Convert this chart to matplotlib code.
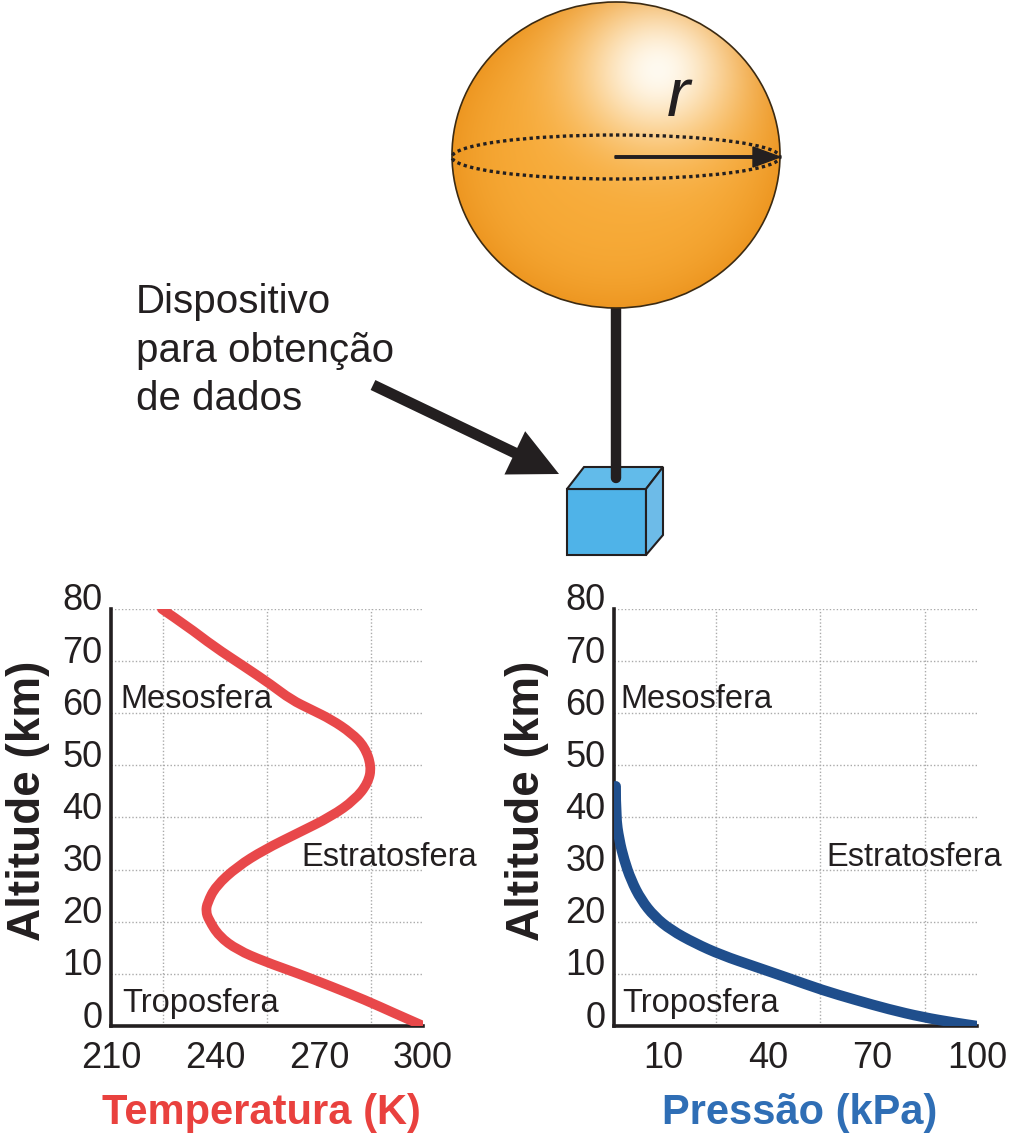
import numpy as np
import matplotlib
matplotlib.use("Agg")
import matplotlib.pyplot as plt
from matplotlib.patches import Ellipse, Polygon, FancyArrow, PathPatch
from matplotlib.path import Path
from matplotlib.transforms import ScaledTranslation

plt.rcParams['font.family'] = ['Liberation Sans', 'DejaVu Sans']

# data
alt_ticks = [0, 10, 20, 30, 40, 50, 60, 70, 80]
temp_ticks = [210, 240, 270, 300]
temp_grid = [225, 240, 255, 270, 285, 300]
pres_ticks = [10, 40, 70, 100]
pres_grid = [10, 25, 40, 55, 70, 85, 100]

temp_alt = [80, 76.7, 72.8, 69, 65.5, 62.6, 60.7, 58.8, 56.2, 53.6, 49.8, 46.6, 43.4,
            40.2, 37, 33.8, 30.6, 26.8, 23.6, 22, 20.4, 17.2, 14.6, 12.4, 10.1, 7.6, 5, 2.4, 0]
temp_K = [224.7, 232, 239.7, 248.4, 256.2, 262, 267.8, 273.6, 279.4, 283.2, 285.2, 284.2, 280.4,
          273.6, 263.9, 254.2, 246.5, 240.2, 237.8, 237.4, 238.2, 241.2, 246.5, 254.2, 263.9, 273.6,
          283.3, 292, 300.2]

pres_alt = [46, 40.2, 35.7, 31.9, 28, 24.2, 21, 18.4, 15.9, 13.6, 11.4, 9.2, 6.9, 5, 3.2, 1.7, 0.6, 0]
pres_kPa = [-3.8, -3.8, -2.8, -1.4, 0.6, 3.5, 7.3, 12.1, 18.9, 26.6, 36.2, 45.8, 55.5, 65.1,
            74.7, 84.3, 93.9, 100]

layers = ["Mesosfera", "Estratosfera", "Troposfera"]

ink = "#231f20"
red = "#e8484a"
blue = "#1f4e8c"

fig = plt.figure(figsize=(10.09, 11.40), dpi=100)

#%% illustration (pixel coordinates)
ax0 = fig.add_axes([0, 0, 1, 1], zorder=0)

xs = np.linspace(452, 780, 330)
ys = np.linspace(2, 308, 310)
X, Y = np.meshgrid(xs, ys)
hl = np.exp(-np.hypot((X - 658) / 80, (Y - 70) / 75) ** 2)
rr = np.clip(np.hypot((X - 616) / 164, (Y - 155) / 153), 0, 1)
base = np.array([0.97, 0.67, 0.22])
edge = np.array([0.93, 0.59, 0.13])
white = np.array([1.0, 0.98, 0.94])
col = base + (edge - base) * (rr[..., None] ** 4)
col = col + (white - col) * hl[..., None]
im = ax0.imshow(col, extent=(452, 780, 308, 2), origin="upper", zorder=2, interpolation="bilinear")

# box + string (string under the balloon, over the box)
front = Polygon([(567, 489), (646, 489), (646, 555), (567, 555)], closed=True,
                fc="#4fb3e8", ec=ink, lw=1.5, zorder=1.2)
top = Polygon([(567, 489), (584, 467), (663, 467), (646, 489)], closed=True,
              fc="#62bbea", ec=ink, lw=1.5, zorder=1.2)
side = Polygon([(646, 489), (663, 467), (663, 535), (646, 555)], closed=True,
               fc="#6dbbe8", ec=ink, lw=1.5, zorder=1.2)
for p in (front, top, side):
    ax0.add_patch(p)
ax0.plot([616, 616], [290, 478], color=ink, lw=7.5, solid_capstyle="round", zorder=1.5)

sphere = Ellipse((616, 155), 328, 306, fc="none", ec="#3b2a12", lw=1.2, zorder=3)
ax0.add_patch(sphere)
im.set_clip_path(sphere)
ax0.add_patch(Ellipse((616, 157), 328, 44, fc="none", ec=ink, lw=2.4, ls=(0, (1, 1)), zorder=4))
ax0.add_patch(FancyArrow(615, 157, 165, 0, width=2.5, head_width=20, head_length=27,
                         length_includes_head=True, color=ink, zorder=5))
ax0.text(678, 98, "r", fontsize=50, style="italic", ha="center", va="center", color=ink, zorder=5)

# pointer arrow and caption
ax0.add_patch(FancyArrow(373, 385, 186, 89, width=11, head_width=48, head_length=49,
                         length_includes_head=True, color=ink, lw=0, zorder=3))
for line, yb in zip(["Dispositivo", "para obtenção", "de dados"], [313, 362, 410]):
    ax0.text(136, yb, line, fontsize=29, va="baseline", ha="left", color=ink)

ax0.set_xlim(0, 1009)
ax0.set_ylim(1140, 0)
ax0.set_aspect("auto")
ax0.axis("off")


#%% charts
def smooth(xv, yv):
    # quadratic pieces through the midpoints, read points used as control points
    pts = np.column_stack([xv, yv])
    verts = [pts[0]]
    codes = [Path.MOVETO]
    for i in range(1, len(pts) - 1):
        verts += [pts[i], (pts[i] + pts[i + 1]) / 2]
        codes += [Path.CURVE3, Path.CURVE3]
    verts.append(pts[-1])
    codes.append(Path.LINETO)
    return Path(verts, codes)


def style_chart(ax, xlim, xticks, xgrid, xlabel, xcolor, xlab_x):
    ax.set_xlim(*xlim)
    ax.set_ylim(0, 80)
    ax.set_xticks(xticks)
    ax.set_xticks(xgrid, minor=True)
    ax.set_yticks(alt_ticks)
    ax.grid(which="minor", axis="x", color="#aaaaaa", ls=(0, (1, 1.5)), lw=1.0)
    ax.grid(which="major", axis="y", color="#aaaaaa", ls=(0, (1, 1.5)), lw=1.0)
    ax.tick_params(which="both", length=0, labelsize=26, colors=ink)
    ax.tick_params(axis="x", pad=11)
    ax.tick_params(axis="y", pad=6)
    for s in ("top", "right"):
        ax.spines[s].set_visible(False)
    for s in ("left", "bottom"):
        ax.spines[s].set_linewidth(2.6)
        ax.spines[s].set_color(ink)
    shift = ScaledTranslation(0, 0.12, fig.dpi_scale_trans)
    for lab in ax.get_yticklabels():
        lab.set_transform(lab.get_transform() + shift)
    ax.set_ylabel("Altitude (km)", fontsize=33, fontweight="bold", color=ink)
    ax.set_xlabel(xlabel, fontsize=30, fontweight="bold", color=xcolor)
    ax.xaxis.set_label_coords(xlab_x, -0.16)
    ax.patch.set_alpha(0)


axT = fig.add_axes([0.110, 0.1, 0.309, 0.3658], zorder=1)
axT.add_patch(PathPatch(smooth(temp_K, temp_alt), fill=False, ec=red, lw=7,
                        capstyle="round", joinstyle="round", zorder=3))
style_chart(axT, (210, 300), temp_ticks, temp_grid, "Temperatura (K)", "#e9413e", 0.484)
axT.yaxis.set_label_coords(-0.195, 0.54)
axT.text(212.6, 62.6, layers[0], fontsize=23.5, va="center", color=ink)
axT.text(265.1, 32.4, layers[1], fontsize=23.5, va="center", color=ink)
axT.text(213.2, 4.4, layers[2], fontsize=23.5, va="center", color=ink)

axP = fig.add_axes([0.6085, 0.1, 0.3598, 0.3658], zorder=1)
axP.add_patch(PathPatch(smooth(pres_kPa, pres_alt), fill=False, ec=blue, lw=7.5,
                        capstyle="round", joinstyle="round", zorder=3))
style_chart(axP, (-4.3, 100), pres_ticks, pres_grid, "Pressão (kPa)", "#2f6eb5", 0.512)
axP.yaxis.set_label_coords(-0.18, 0.54)
axP.text(-2.6, 62.6, layers[0], fontsize=23.5, va="center", color=ink)
axP.text(56.6, 32.4, layers[1], fontsize=23.5, va="center", color=ink)
axP.text(-2.0, 4.4, layers[2], fontsize=23.5, va="center", color=ink)

fig.savefig("out.png", dpi=100)
